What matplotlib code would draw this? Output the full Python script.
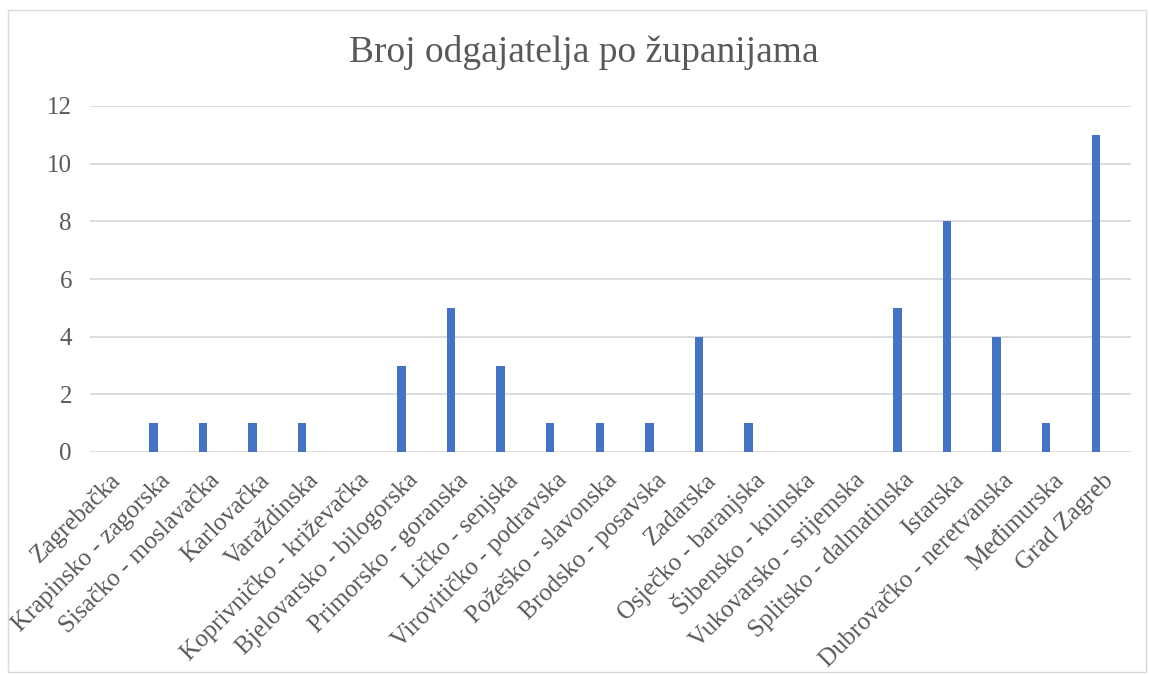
import matplotlib
matplotlib.use("Agg")
import matplotlib.pyplot as plt
from matplotlib.patches import Rectangle
from matplotlib.transforms import ScaledTranslation

categories = ["Zagrebačka", "Krapinsko - zagorska", "Sisačko - moslavačka", "Karlovačka",
              "Varaždinska", "Koprivničko - križevačka", "Bjelovarsko - bilogorska",
              "Primorsko - goranska", "Ličko - senjska", "Virovitičko - podravska",
              "Požeško - slavonska", "Brodsko - posavska", "Zadarska", "Osječko - baranjska",
              "Šibensko - kninska", "Vukovarsko - srijemska", "Splitsko - dalmatinska",
              "Istarska", "Dubrovačko - neretvanska", "Međimurska", "Grad Zagreb"]
values = [0, 1, 1, 1, 1, 0, 3, 5, 3, 1, 1, 1, 4, 1, 0, 0, 5, 8, 4, 1, 11]
yticks = [0, 2, 4, 6, 8, 10, 12]
title = "Broj odgajatelja po županijama"

plt.rcParams['font.family'] = ['Liberation Serif', 'DejaVu Serif']
text_color = '#595959'

fig = plt.figure(figsize=(11.49, 6.75), dpi=100)
fig.patches.append(Rectangle((8/1149, 1-672/675), (1146-8)/1149, (672-10)/675,
                             transform=fig.transFigure, fill=False,
                             edgecolor='#d9d9d9', linewidth=1.0))

ax = fig.add_axes([90/1149, 1-452/675, (1131-90)/1149, (452-106)/675])
x = list(range(len(categories)))
ax.bar(x, values, width=0.17, color='#4472C4', zorder=3)
ax.set_xlim(-0.28, 20.71)
ax.set_ylim(0, 12)
ax.set_yticks(yticks)
ax.yaxis.grid(True, color='#d9d9d9', linewidth=1.3, zorder=0)
for s in ax.spines.values():
    s.set_visible(False)
ax.tick_params(axis='both', length=0, labelsize=18, colors=text_color)
ax.tick_params(axis='y', pad=13)
ax.set_xticks(x)
ax.set_xticklabels(categories, rotation=45, ha='right', va='top',
                   rotation_mode='anchor')
ax.tick_params(axis='x', pad=6)
shift = ScaledTranslation(6/100, -9/100, fig.dpi_scale_trans)
for lbl in ax.get_xticklabels():
    lbl.set_transform(lbl.get_transform() + shift)
fig.text(584/1149, 1-52/675, title, ha='center', va='center', fontsize=27, color=text_color)

fig.savefig("out.png", dpi=100)
